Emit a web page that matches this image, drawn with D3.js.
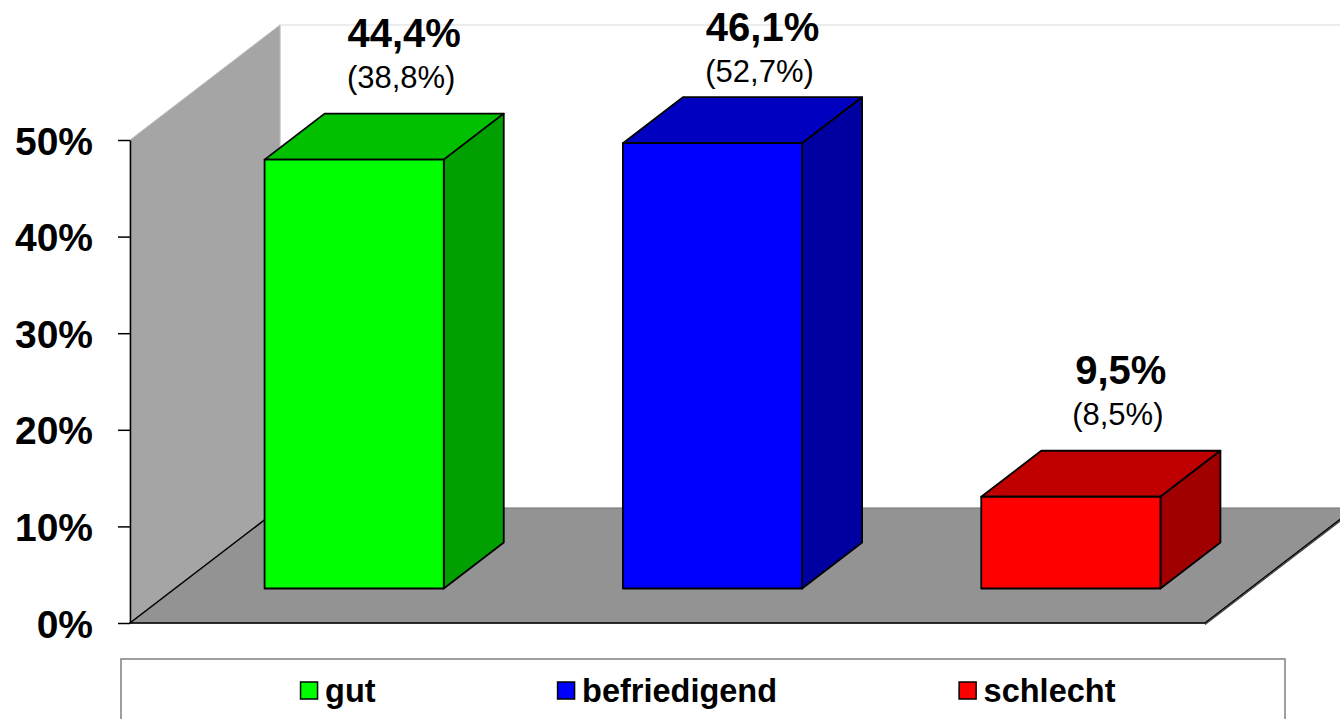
<!DOCTYPE html>
<html>
<head>
<meta charset="utf-8">
<script src="https://cdn.jsdelivr.net/npm/d3@7"></script>
<style>
  body { margin: 0; background: #fff; }
  svg { display: block; font-family: "Liberation Sans", Arial, sans-serif; }
</style>
</head>
<body>
<div id="chart"></div>
<script>
// data
var categories = ["gut", "befriedigend", "schlecht"];
var values = [44.4, 46.1, 9.5];        // current share in %
var prevValues = [38.8, 52.7, 8.5];    // value in brackets
var colors = ["#00ff00", "#0000ff", "#ff0000"];
var topColors = ["#00c000", "#0000c0", "#c00000"];
var sideColors = ["#00a000", "#0000a0", "#a00000"];
var yTicks = [0, 10, 20, 30, 40, 50];

var width = 1340, height = 719;

var de = d3.formatLocale({decimal: ",", thousands: ".", grouping: [3], currency: ["", "€"]});
var fmt = de.format(".1f");

var svg = d3.select("#chart").append("svg")
    .attr("width", width)
    .attr("height", height);

// front plane
var x = d3.scaleBand()
    .domain(categories)
    .range([130, 1205])
    .paddingInner(0.5)
    .paddingOuter(0.25);

var y = d3.scaleLinear()
    .domain([0, 50])
    .range([623, 140]);

// depth of the 3d box
var depth = {dx: 150, dy: -115};
var barFrom = 0.3, barTo = 0.7;

function pts(arr) {
    return arr.map(function (p) { return p[0] + "," + p[1]; }).join(" ");
}

var y0 = y(0), yTop = y(50);

// back wall (white) with faint edge
svg.append("polygon")
    .attr("points", pts([[130 + depth.dx, yTop + depth.dy], [width + 20, yTop + depth.dy],
                         [width + 20, y0 + depth.dy], [130 + depth.dx, y0 + depth.dy]]))
    .attr("fill", "#fff")
    .attr("stroke", "#e8e8e8")
    .attr("stroke-width", 1.5);

// side wall
svg.append("polygon")
    .attr("points", pts([[130, y0], [130, yTop], [130 + depth.dx, yTop + depth.dy], [130 + depth.dx, y0 + depth.dy]]))
    .attr("fill", "#a5a5a5")
    .attr("stroke", "#bdbdbd")
    .attr("stroke-width", 1);

// floor
var floorPts = [[130, y0], [1205, y0], [1205 + depth.dx, y0 + depth.dy], [130 + depth.dx, y0 + depth.dy]];
svg.append("polygon")
    .attr("points", pts(floorPts))
    .attr("fill", "#939393")
    .attr("stroke", "#7a7a7a")
    .attr("stroke-width", 1);

svg.append("polyline")
    .attr("points", pts([[130 + depth.dx, y0 + depth.dy], [130, y0], [1205, y0], [1205 + depth.dx, y0 + depth.dy]]))
    .attr("fill", "none")
    .attr("stroke", "#000")
    .attr("stroke-width", 1.5);

svg.append("line")
    .attr("x1", 1205).attr("y1", y0 + 1.5)
    .attr("x2", 1205 + depth.dx).attr("y2", y0 + depth.dy + 1.5)
    .attr("stroke", "#444")
    .attr("stroke-width", 1.5);

// bars
var offX = depth.dx * barFrom, offY = depth.dy * barFrom;
var bdx = depth.dx * (barTo - barFrom), bdy = depth.dy * (barTo - barFrom);

var bars = svg.selectAll("g.bar")
    .data(categories)
    .enter().append("g")
    .attr("class", "bar");

bars.each(function (c, i) {
    var g = d3.select(this);
    var x0 = x(c) + offX, x1 = x0 + x.bandwidth();
    var yt = y(values[i]) + offY, yb = y(0) + offY;

    g.append("polygon")
        .attr("points", pts([[x0, yt], [x1, yt], [x1 + bdx, yt + bdy], [x0 + bdx, yt + bdy]]))
        .attr("fill", topColors[i]);
    g.append("polygon")
        .attr("points", pts([[x1, yt], [x1 + bdx, yt + bdy], [x1 + bdx, yb + bdy], [x1, yb]]))
        .attr("fill", sideColors[i]);
    g.append("rect")
        .attr("x", x0).attr("y", yt)
        .attr("width", x1 - x0).attr("height", yb - yt)
        .attr("fill", colors[i]);
    g.selectAll("polygon, rect")
        .attr("stroke", "#000")
        .attr("stroke-width", 1.8)
        .attr("stroke-linejoin", "round");

    // labels
    var cx = (x0 + x1) / 2 + bdx / 2 + 20;
    var base = Math.max(yt + bdy - 67, 41);
    g.append("text")
        .attr("x", cx).attr("y", base)
        .attr("text-anchor", "middle")
        .attr("font-size", 40)
        .attr("font-weight", "bold")
        .text(fmt(values[i]) + "%");
    g.append("text")
        .attr("x", cx - 3).attr("y", base + 41)
        .attr("text-anchor", "middle")
        .attr("font-size", 31)
        .text("(" + fmt(prevValues[i]) + "%)");
});

// y axis
var yAxis = svg.append("g")
    .attr("transform", "translate(130,0)")
    .call(d3.axisLeft(y)
        .tickValues(yTicks)
        .tickSize(12)
        .tickSizeOuter(0)
        .tickPadding(25)
        .tickFormat(function (d) { return d + "%"; }));

yAxis.select(".domain").attr("stroke", "#000").attr("stroke-width", 1.5);
yAxis.selectAll(".tick line").attr("stroke", "#000").attr("stroke-width", 1.5);
yAxis.selectAll(".tick text")
    .attr("font-family", "'Liberation Sans', Arial, sans-serif")
    .attr("font-size", 39)
    .attr("font-weight", "bold")
    .attr("fill", "#000")
    .attr("dy", "0.36em");

// legend
var lg = {x: 121, y: 659, w: 1164, h: 80, box: 17, gap: 7.5};
svg.append("rect")
    .attr("x", lg.x).attr("y", lg.y)
    .attr("width", lg.w).attr("height", lg.h)
    .attr("fill", "#fff")
    .attr("stroke", "#7f7f7f")
    .attr("stroke-width", 1.5);

var items = svg.selectAll("g.legend")
    .data(categories)
    .enter().append("g")
    .attr("class", "legend");

items.append("rect")
    .attr("width", lg.box).attr("height", lg.box)
    .attr("y", 682)
    .attr("fill", function (d, i) { return colors[i]; })
    .attr("stroke", "#000")
    .attr("stroke-width", 1.5);

items.append("text")
    .attr("y", 702)
    .attr("font-size", 32.5)
    .attr("font-weight", "bold")
    .text(function (d) { return d; });

// lay out legend items with equal gaps, centred in the box
var widths = [];
items.each(function () {
    var t = d3.select(this).select("text").node().getComputedTextLength();
    widths.push(lg.box + lg.gap + t);
});
var spacing = 182;
var total = d3.sum(widths) + spacing * (widths.length - 1);
var cur = lg.x + lg.w / 2 - total / 2 + 5;
items.each(function (d, i) {
    var g = d3.select(this);
    g.select("rect").attr("x", cur);
    g.select("text").attr("x", cur + lg.box + lg.gap);
    cur += widths[i] + spacing;
});
</script>
</body>
</html>
